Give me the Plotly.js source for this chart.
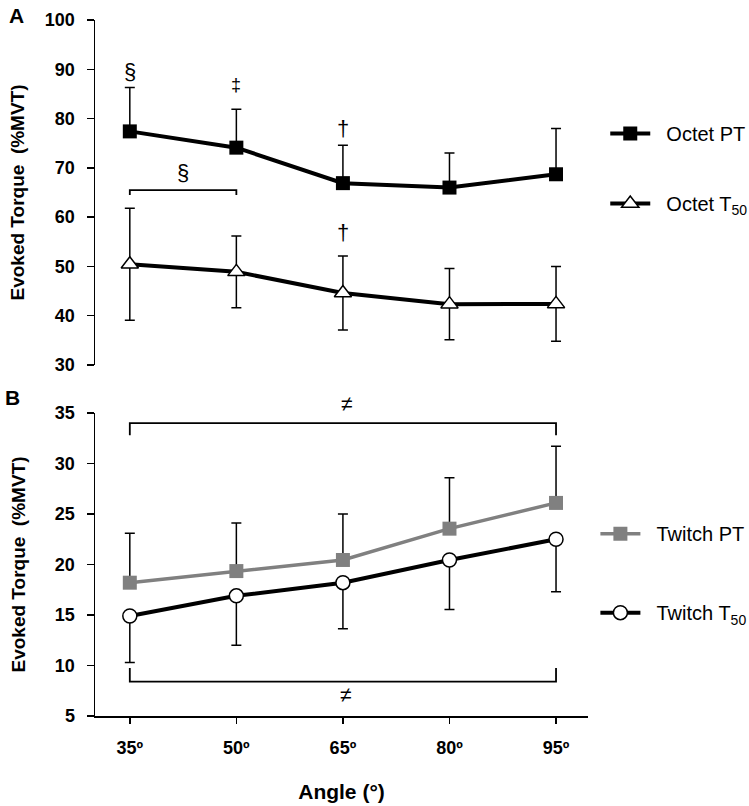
<!DOCTYPE html>
<html>
<head>
<meta charset="utf-8">
<script src="https://cdn.plot.ly/plotly-3.0.1.min.js"></script>
<style>html,body{margin:0;padding:0;background:#fff;}#chart{width:749px;height:806px;}</style>
</head>
<body>
<div id="chart"></div>
<script>
const angles = [35, 50, 65, 80, 95];
const angleLabels = ['35º', '50º', '65º', '80º', '95º'];

const octetPT = [77.4, 74.1, 66.9, 66.0, 68.7];
const octetPTErr = [8.9, 7.8, 7.7, 7.0, 9.3];
const octetT50 = [50.45, 48.9, 44.6, 42.35, 42.4];
const octetT50Err = [11.35, 7.3, 7.5, 7.25, 7.6];

const twitchPT = [18.2, 19.35, 20.45, 23.55, 26.1];
const twitchPTErr = [4.9, 4.75, 4.55, 5.05, 5.6];
const twitchT50 = [14.9, 16.9, 18.2, 20.45, 22.5];
const twitchT50Err = [4.6, 4.9, 4.55, 4.9, 5.2];

const zeros = angles.map(() => 0);
const FONT = 'Liberation Sans, Arial, sans-serif';
const XR = [30.1, 99.5];
const SP = '\u00A0\u00A0';

function bracket(xs, ys, xa, ya) {
  return {x: xs, y: ys, xaxis: xa, yaxis: ya, mode: 'lines', type: 'scatter',
    line: {color: '#000', width: 1.8}, showlegend: false, hoverinfo: 'skip'};
}

const traces = [
  {x: angles, y: octetPT, name: SP + 'Octet PT', xaxis: 'x2', yaxis: 'y2', type: 'scatter', mode: 'lines+markers',
   line: {color: '#000', width: 4}, marker: {symbol: 'square', size: 14, color: '#000'},
   error_y: {type: 'data', symmetric: false, array: octetPTErr, arrayminus: zeros, color: '#000', thickness: 1.5, width: 5},
   legend: 'legend', legendgroup: 'a'},
  {x: angles, y: octetT50, name: SP + 'Octet T<sub>50</sub>', xaxis: 'x2', yaxis: 'y2', type: 'scatter', mode: 'lines+markers',
   line: {color: '#000', width: 4}, marker: {symbol: 'triangle-up', size: 15, color: '#fff', line: {color: '#000', width: 1.5}},
   error_y: {type: 'data', array: octetT50Err, color: '#000', thickness: 1.5, width: 5},
   legend: 'legend', legendgroup: 'b'},
  {x: angles, y: twitchPT, name: SP + 'Twitch PT', xaxis: 'x', yaxis: 'y', type: 'scatter', mode: 'lines+markers',
   line: {color: '#808080', width: 3.5}, marker: {symbol: 'square', size: 14, color: '#808080'},
   error_y: {type: 'data', symmetric: false, array: twitchPTErr, arrayminus: zeros, color: '#000', thickness: 1.5, width: 5},
   legend: 'legend2', legendgroup: 'c'},
  {x: angles, y: twitchT50, name: SP + 'Twitch T<sub>50</sub>', xaxis: 'x', yaxis: 'y', type: 'scatter', mode: 'lines+markers',
   line: {color: '#000', width: 4}, marker: {symbol: 'circle', size: 14, color: '#fff', line: {color: '#000', width: 1.5}},
   error_y: {type: 'data', symmetric: false, array: zeros, arrayminus: twitchT50Err, color: '#000', thickness: 1.5, width: 5},
   legend: 'legend2', legendgroup: 'd'},
  bracket([35, 35, 50, 50], [64.5, 65.5, 65.5, 64.5], 'x2', 'y2'),
  bracket([35, 35, 95, 95], [32.8, 34, 34, 32.8], 'x', 'y'),
  bracket([35, 35, 95, 95], [9.75, 8.4, 8.4, 9.75], 'x', 'y')
];

const tickFont = {family: FONT, size: 18, color: '#000', weight: 'bold'};
const titleFont = {family: FONT, size: 19, color: '#000', weight: 'bold'};
const symFont = (s) => ({family: FONT, size: s, color: '#000'});

const layout = {
  width: 749, height: 806,
  margin: {l: 95, r: 161, t: 20, b: 90, autoexpand: false},
  paper_bgcolor: '#fff', plot_bgcolor: '#fff',
  font: {family: FONT, color: '#000'},
  showlegend: true,
  xaxis: {domain: [0, 1], anchor: 'y', range: XR, tickvals: angles, ticktext: angleLabels,
    showline: true, linecolor: '#000', linewidth: 1.5, ticks: 'outside', ticklen: 6, tickwidth: 1.5, tickcolor: '#000',
    showgrid: false, zeroline: false, tickfont: tickFont, ticklabelstandoff: 9,
    title: {text: 'Angle (°)', font: {family: FONT, size: 21, color: '#000', weight: 'bold'}, standoff: 27}},
  xaxis3: {overlaying: 'x', anchor: 'y', range: XR, tickvals: angles, showticklabels: false,
    showline: false, ticks: 'inside', ticklen: 7, tickwidth: 1.5, tickcolor: '#000', showgrid: false, zeroline: false},
  xaxis2: {domain: [0, 1], anchor: 'y2', range: XR, visible: false},
  yaxis: {domain: [0, 0.4353], anchor: 'x', range: [5, 35], dtick: 5, tick0: 5,
    showline: true, linecolor: '#000', linewidth: 1.5, ticks: 'outside', ticklen: 7, tickwidth: 1.5, tickcolor: '#000',
    showgrid: false, zeroline: false, tickfont: tickFont, ticklabelstandoff: 8,
    title: {text: 'Evoked Torque  (%MVT)', font: titleFont, standoff: 24}},
  yaxis2: {domain: [0.5043, 1], anchor: 'x2', range: [30, 100], dtick: 10, tick0: 30,
    showline: true, linecolor: '#000', linewidth: 1.5, ticks: 'outside', ticklen: 7, tickwidth: 1.5, tickcolor: '#000',
    showgrid: false, zeroline: false, tickfont: tickFont, ticklabelstandoff: 8,
    title: {text: 'Evoked Torque  (%MVT)', font: titleFont, standoff: 15}},
  legend: {x: 1.035, xanchor: 'left', y: 0.865, yanchor: 'top', font: {family: FONT, size: 20, color: '#000'},
    itemwidth: 40, tracegroupgap: 41, bgcolor: 'rgba(0,0,0,0)'},
  legend2: {x: 1.015, xanchor: 'left', y: 0.29, yanchor: 'top', font: {family: FONT, size: 20, color: '#000'},
    itemwidth: 40, tracegroupgap: 50, bgcolor: 'rgba(0,0,0,0)'},
  annotations: [
    {text: '§', x: 35, y: 89.5, xref: 'x2', yref: 'y2', showarrow: false, font: symFont(22)},
    {text: '‡', x: 50, y: 86.8, xref: 'x2', yref: 'y2', showarrow: false, font: symFont(18)},
    {text: '†', x: 65, y: 78, xref: 'x2', yref: 'y2', showarrow: false, font: symFont(22)},
    {text: '§', x: 42.5, y: 69.0, xref: 'x2', yref: 'y2', showarrow: false, font: symFont(22)},
    {text: '†', x: 65, y: 56.85, xref: 'x2', yref: 'y2', showarrow: false, font: symFont(22)},
    {text: '≠', x: 65.6, y: 0.4497, xref: 'x', yref: 'paper', showarrow: false, font: symFont(21)},
    {text: '≠', x: 65.5, y: 7.1, xref: 'x', yref: 'y', showarrow: false, font: symFont(21)},
    {text: 'A', x: -0.16, y: 1.007, xref: 'paper', yref: 'paper', showarrow: false, xanchor: 'center', yanchor: 'middle',
     font: {family: FONT, size: 21, color: '#000', weight: 'bold'}},
    {text: 'B', x: -0.168, y: 0.457, xref: 'paper', yref: 'paper', showarrow: false, xanchor: 'center', yanchor: 'middle',
     font: {family: FONT, size: 21, color: '#000', weight: 'bold'}}
  ]
};

Plotly.newPlot('chart', traces, layout, {displayModeBar: false, staticPlot: true});
</script>
</body>
</html>
